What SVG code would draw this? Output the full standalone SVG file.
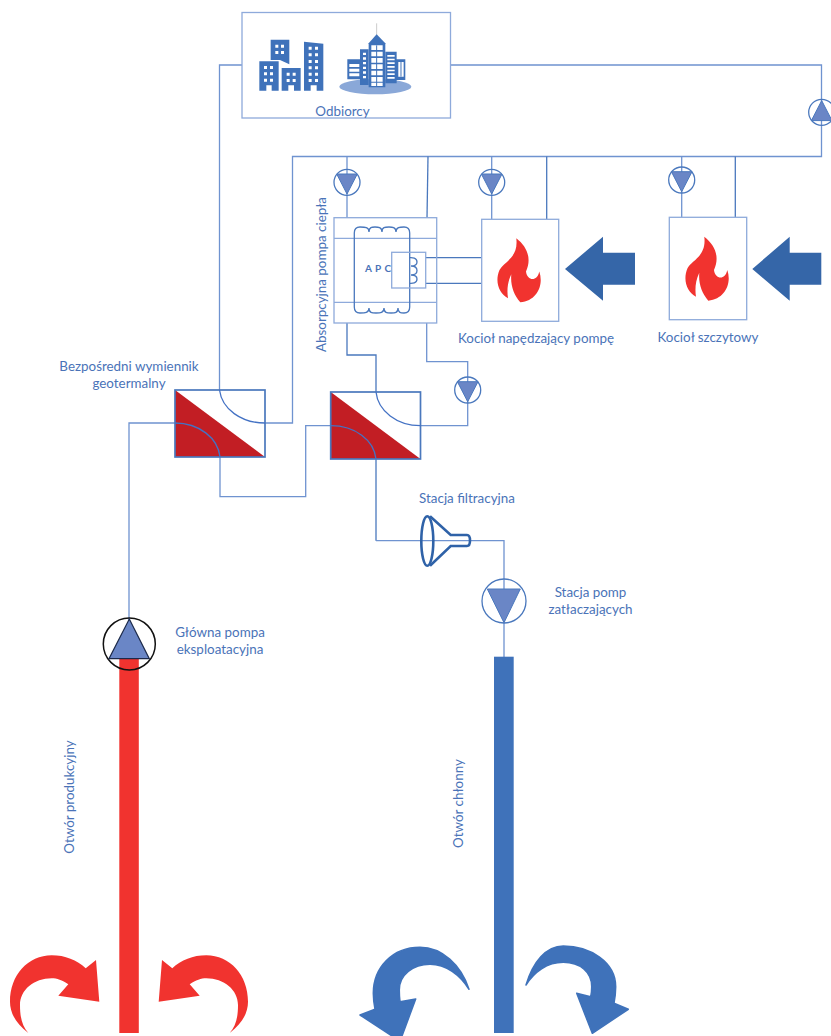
<svg xmlns="http://www.w3.org/2000/svg" xmlns:xlink="http://www.w3.org/1999/xlink" width="831" height="1036" viewBox="0 0 831 1036">
<style>
text{font-family:Lato,"Liberation Sans",sans-serif;font-size:13.4px;fill:#4a73b8}
.m{text-anchor:middle}
.ln{fill:none;stroke:#6f93d0;stroke-width:1.3}
.ld{fill:none;stroke:#4a78bd;stroke-width:1.3}
.box{fill:none;stroke:#8eaadb;stroke-width:1.3}
.hx{fill:none;stroke:#4a78bd;stroke-width:1.7}
.arc{fill:none;stroke:#4472c4;stroke-width:1.3}
.red{fill:#c21e24}
.tri{fill:#6a86c6;stroke:#4a78bd;stroke-width:1}
.pc{fill:none;stroke:#4a78bd;stroke-width:1.3}
.fl{fill:#f1332f}
.bl{fill:#3f72ba}
.ba{fill:#3f72ba;stroke:#3f72ba;stroke-width:1.5;stroke-linejoin:round}
.ar{fill:#3566a8}
.w{fill:#fff}
</style>
<defs>
<g id="pd"><circle class="pc" r="13"/><polygon class="tri" points="-10.3,-8.3 10.3,-8.3 0,11.7"/></g>
<g id="pu"><circle class="pc" r="13"/><polygon class="tri" points="-10.3,8.3 10.3,8.3 0,-11.7"/></g>
<path id="flame" d="M64.3,146.7C75,155 80,166.7 74,180C75,189 85,191 87.3,180C92,193.3 85,209.3 68.3,210.7C61.7,203.3 58.3,193.3 59.3,182.7C55,191.7 55,200 56,206.7C47,201.7 42.5,190 47.5,178.3C51.7,170 66.7,166.7 64.3,146.7Z"/>
</defs>

<g id="connectors">
<path class="ln" d="M242,65H219.5V390"/>
<path class="ln" d="M265,423H292.5V156.5H821.5V65H450.5"/>
<path class="ln" d="M175,423H129V620"/>
<path class="ln" d="M220,457V496.7H305.7V425.7H331"/>
<path class="ln" d="M420.5,425.7H467.7V361.7H426.7V323"/>
<path class="ld" d="M376,392V355H347V323"/>
<path class="ld" d="M376,459V540.7"/>
<path class="ln" d="M376,540.7H504V657"/>
<path class="ln" d="M347,156.5V218"/>
<path class="ld" d="M428,156.5L427,218"/>
<path class="ln" d="M491.7,156.5V219"/>
<path class="ld" d="M546.7,156.5V219"/>
<path class="ln" d="M681.7,156.5V217"/>
<path class="ld" d="M735.3,156.5V217"/>
<path class="ld" d="M425.7,257.7H481.5M425.7,283.3H481.5"/>
</g>

<g id="odbiorcy">
<rect class="box" x="242" y="12.5" width="208.5" height="105.5"/>
<g transform="translate(230,0) scale(.3333)">
<path class="bl" d="M122,119H178V193L150,180H122Z"/>
<path class="bl" d="M88,184H146V272H125V256H109V272H88Z"/>
<path class="bl" d="M155,204H212V272H192V256H175V272H155Z"/>
<path class="bl" d="M222,125L280,131V272H260V256H242V272H222Z"/>
<path class="w" d="M136,134h9v9h-9zM153,134h9v9h-9zM136,153h9v9h-9zM153,153h9v9h-9zM102,198h9v9h-9zM120,198h9v9h-9zM102,217h9v9h-9zM120,217h9v9h-9zM102,236h9v9h-9zM120,236h9v9h-9zM170,218h9v9h-9zM188,218h9v9h-9zM170,237h9v9h-9zM188,237h9v9h-9zM236,140h9v9h-9zM255,140h9v9h-9zM236,160h9v9h-9zM255,160h9v9h-9zM236,180h9v9h-9zM255,180h9v9h-9zM236,199h9v9h-9zM255,199h9v9h-9zM236,218h9v9h-9zM255,218h9v9h-9zM236,237h9v9h-9zM255,237h9v9h-9z"/>
<ellipse cx="436" cy="260" rx="108" ry="23" fill="#8aa8d8"/>
<path d="M440,70V105" stroke="#ccc" stroke-width="3" fill="none"/>
<path class="bl" d="M352,178H392V238H352ZM390,148H416V255H390ZM466,155H500V250H466ZM500,178H526V240H500Z"/>
<path class="bl" d="M416,130L440,103L466,130V262H416Z"/>
<path class="w" d="M424,136h34v14h-34zM424,155h34v14h-34zM424,174h34v14h-34zM424,193h34v14h-34zM424,212h34v14h-34zM424,231h34v14h-34zM424,248h34v10h-34zM358,192h30v9h-30zM358,206h30v9h-30zM358,220h30v9h-30zM399,158h9v7h-9zM399,172h9v7h-9zM399,186h9v7h-9zM399,200h9v7h-9zM399,214h9v7h-9zM399,228h9v7h-9zM472,165h22v5h-22zM472,176h22v5h-22zM472,187h22v5h-22zM472,198h22v5h-22zM472,209h22v5h-22zM472,220h22v5h-22zM472,231h22v5h-22zM505,186h16v44h-16z"/>
<path d="M440,136V258M513,186V230" stroke="#3f72ba" stroke-width="3" fill="none"/>
</g>
<text class="m" x="342.5" y="116">Odbiorcy</text>
</g>

<g id="pump-main-return"><use xlink:href="#pu" href="#pu" x="821.7" y="112.3"/></g>
<g id="pump-apc"><use xlink:href="#pd" href="#pd" x="347" y="182.3"/></g>
<g id="pump-boiler1"><use xlink:href="#pd" href="#pd" x="491.7" y="182.3"/></g>
<g id="pump-boiler2"><use xlink:href="#pd" href="#pd" x="681.7" y="180"/></g>
<g id="pump-apc-low"><use xlink:href="#pd" href="#pd" x="467.7" y="390"/></g>

<g id="apc">
<rect class="box" x="334" y="217.7" width="102.7" height="105.3"/>
<path class="box" d="M334,238.3H436.7M334,302.3H436.7"/>
<path class="ld" d="M369,232C369,227 365,227 360,227C356,227 354.3,229 354.3,233V307C354.3,311 356,313 360,313C365,313 369,313 369,308C369,313 372,313 376,313C380,313 384,313 384,308C384,313 387,313 391,313C395,313 398,313 398,308C398,313 401,313 404,313C408,313 409.7,311 409.7,307V233C409.7,229 408,227 404,227C400,227 396,227 396,232C396,227 392,227 389,227C385,227 382,227 382,232C382,227 378,227 375,227C372,227 369,227 369,232Z"/>
<rect class="box" x="391.7" y="252.3" width="34" height="35.7"/>
<path class="ld" d="M409.7,257.7C411,257.7 417,257 417,262C417,266 413,266 411,266C413,266 417,266 417,270.5C417,275 413,275 411,275C413,275 417,275 417,279C417,284 411,283.3 409.7,283.3"/>
<text x="365" y="271.7" style="font-size:10px;font-weight:700;letter-spacing:.5px">A P C</text>
<text class="m" transform="translate(326,274.5) rotate(-90)">Absorpcyjna pompa ciepła</text>
</g>

<g id="boiler1">
<rect class="box" x="481.7" y="219.3" width="77" height="102"/>
<use xlink:href="#flame" href="#flame" class="fl" transform="translate(452,91.6)"/>
<text class="m" x="536" y="343">Kocioł napędzający pompę</text>
</g>
<g id="arrow1"><polygon class="ar" points="565,269 603,236.7 603,252.7 635,252.7 635,284.7 603,284.7 603,300.7"/></g>

<g id="boiler2">
<rect class="box" x="669.3" y="217.3" width="77.4" height="102.4"/>
<use xlink:href="#flame" href="#flame" class="fl" transform="translate(640,90)"/>
<text class="m" x="708" y="342">Kocioł szczytowy</text>
</g>
<g id="arrow2"><polygon class="ar" points="752.3,269 789.7,236.7 789.7,252.7 821.3,252.7 821.3,284.7 789.7,284.7 789.7,300.7"/></g>

<g id="hx1">
<polygon class="red" points="175,390 265,457 175,457"/>
<rect class="hx" x="175" y="390" width="90" height="67"/>
<path class="arc" d="M219.5,390C222,409 241,423 265,423M175,423C199,423 218,438 220,457"/>
<text class="m" x="129" y="370.7">Bezpośredni wymiennik</text>
<text class="m" x="129" y="388">geotermalny</text>
</g>

<g id="hx2">
<polygon class="red" points="330.7,392 420.5,459 330.7,459"/>
<rect class="hx" x="330.7" y="392" width="89.8" height="67"/>
<path class="arc" d="M376,392C378,411 397,425.7 420.5,425.7M330.7,425.7C355,425.7 374,440 376,459"/>
</g>

<g id="filter">
<ellipse cx="427.3" cy="541" rx="6" ry="24.8" fill="none" stroke="#2f62a8" stroke-width="2.6"/>
<path d="M430,516.3L450.7,535H467Q470,535 470,540.5Q470,546 467,546H450.7L430,565.7" fill="none" stroke="#2f62a8" stroke-width="2.6"/>
<text class="m" x="467" y="503">Stacja filtracyjna</text>
</g>

<g id="pump-injection">
<circle class="pc" cx="504" cy="601" r="22"/>
<polygon class="tri" points="487.3,589 520.3,589 504,622.7"/>
<text class="m" x="590.5" y="597">Stacja pomp</text>
<text class="m" x="590.5" y="614">zatłaczających</text>
</g>

<g id="well-production">
<rect class="fl" x="119.3" y="659" width="19.5" height="374"/>
<path class="fl" d="M28.3,1033C15,1023 10,1012 10,1001.7C10,975 28,955.3 51.7,955.3C65,955.3 77,960 85.7,968.3L96,960L99.3,1001.7L58.3,995.7L68.3,984.3C62,980 57,978.3 51.7,978.3C34,978.3 20,990 20,1005C20,1017 22,1026 28.3,1033Z"/>
<path class="fl" transform="translate(258,0) scale(-1,1)" d="M28.3,1033C15,1023 10,1012 10,1001.7C10,975 28,955.3 51.7,955.3C65,955.3 77,960 85.7,968.3L96,960L99.3,1001.7L58.3,995.7L68.3,984.3C62,980 57,978.3 51.7,978.3C34,978.3 20,990 20,1005C20,1017 22,1026 28.3,1033Z"/>
<text class="m" transform="translate(74,797) rotate(-90)">Otwór produkcyjny</text>
</g>

<g id="pump-production">
<circle cx="129.3" cy="644" r="26" fill="none" stroke="#111" stroke-width="1.5"/>
<polygon points="129.3,619 149.3,658.7 109,658.7" fill="#6a86c6" stroke="#1c2a4a" stroke-width="1.2"/>
<text class="m" x="220" y="637">Główna pompa</text>
<text class="m" x="220" y="654">eksploatacyjna</text>
</g>

<g id="well-injection">
<rect class="bl" x="494" y="656.7" width="19.7" height="376.3"/>
<path class="ba" d="M469,989.3C461,965 442,947.3 420,947.3C392,947.3 373.3,968 373.3,993.3C373.3,999 374,1004 375,1009.3L360,1015L392,1036H402L415.7,999L400,1001.7C399.5,998 399.3,994 399.3,990C399.3,975 413,964.3 430,964.3C446,964.3 460,975 469,989.3Z"/>
<path class="ba" d="M526,985C533,962 546,946 563.3,946C590,946 615.7,962 615.7,986.7C615.7,993 615,998 614,1003.3L628.3,1009.3L592.3,1033.3L576.7,993.3L590.7,996.7C591.5,993 591.7,990 591.7,986.7C591.7,972 580,962.3 563.3,962.3C547,962.3 534,972 526,985Z"/>
<text class="m" transform="translate(463,803.5) rotate(-90)">Otwór chłonny</text>
</g>
</svg>
